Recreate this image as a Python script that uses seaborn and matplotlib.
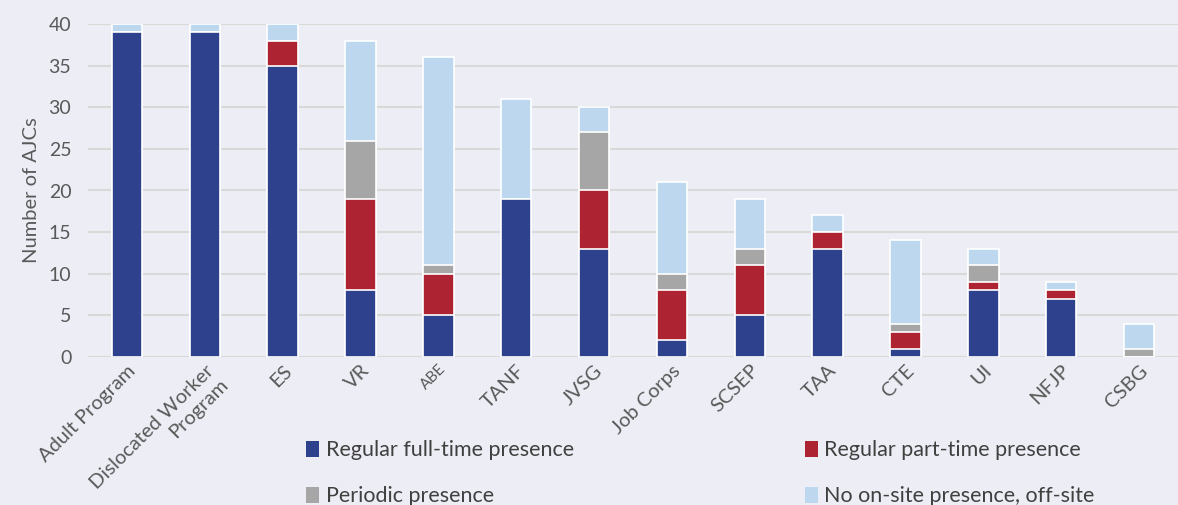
import matplotlib
matplotlib.use("Agg")
import matplotlib.pyplot as plt
from matplotlib.patches import Patch
import seaborn as sns
import pandas as pd
import numpy as np

categories = ["Adult Program", "Dislocated Worker\nProgram", "ES", "VR", "ABE", "TANF", "JVSG",
              "Job Corps", "SCSEP", "TAA", "CTE", "UI", "NFJP", "CSBG"]
full_time = [39, 39, 35, 8, 5, 19, 13, 2, 5, 13, 1, 8, 7, 0]
part_time = [0, 0, 3, 11, 5, 0, 7, 6, 6, 2, 2, 1, 1, 0]
periodic = [0, 0, 0, 7, 1, 0, 7, 2, 2, 0, 1, 2, 0, 1]
off_site = [1, 1, 2, 12, 25, 12, 3, 11, 6, 2, 10, 2, 1, 3]
series_names = ["Regular full-time presence", "Regular part-time presence",
                "Periodic presence", "No on-site presence, off-site"]
colors = ["#2E418C", "#AE2331", "#A6A6A6", "#BDD7EE"]

bg = "#EDEEF5"
sns.set_theme(style="whitegrid")
plt.rcParams["font.family"] = ["Lato", "DejaVu Sans"]

df = pd.DataFrame({"cat": categories, "ft": full_time, "pt": part_time,
                   "per": periodic, "off": off_site})
df["c1"] = df["ft"]
df["c2"] = df["c1"] + df["pt"]
df["c3"] = df["c2"] + df["per"]
df["c4"] = df["c3"] + df["off"]

fig = plt.figure(figsize=(11.78, 5.05), dpi=100, facecolor=bg)
ax = fig.add_axes([88 / 1178, (505 - 357) / 505, 1 - 88 / 1178, (357 - 24) / 505])
ax.set_facecolor(bg)

for col, color in zip(["c4", "c3", "c2", "c1"], colors[::-1]):
    sns.barplot(data=df, x="cat", y=col, color=color, width=0.39,
                edgecolor="white", linewidth=1.2, ax=ax, saturation=1, order=categories)

ax.set_ylim(0, 40)
ax.set_yticks(range(0, 41, 5))
ax.set_xlim(-0.5, len(categories) - 0.5)
ax.grid(axis="y", color="#D9D9D9", linewidth=1.5)
ax.grid(axis="x", visible=False)
ax.set_axisbelow(True)
for s in ax.spines.values():
    s.set_visible(False)
ax.tick_params(axis="both", length=0, colors="#595959", labelsize=14)
ax.tick_params(axis="y", pad=12)
ax.set_xlabel("")
ax.set_ylabel("Number of AJCs", fontsize=14.5, color="#595959", labelpad=6)
ax.set_xticks(range(len(categories)))
ax.set_xticklabels(categories, rotation=45, ha="right", rotation_mode="anchor", fontsize=14.5)
for lbl in ax.get_xticklabels():
    lbl.set_color("#595959")
    if lbl.get_text() == "ABE":
        lbl.set_fontsize(11)

order = [0, 2, 1, 3]
handles = [Patch(facecolor=colors[i], edgecolor="none") for i in order]
labels = [series_names[i] for i in order]
leg = fig.legend(handles, labels, ncol=2, loc="upper left",
                 bbox_to_anchor=(287 / 1178, (505 - 421) / 505), frameon=False,
                 fontsize=15.5, handlelength=0.6, handleheight=0.75, handletextpad=0.3,
                 labelspacing=1.2, columnspacing=10.72, labelcolor="#404040")

fig.savefig("out.png", dpi=100, facecolor=bg)
